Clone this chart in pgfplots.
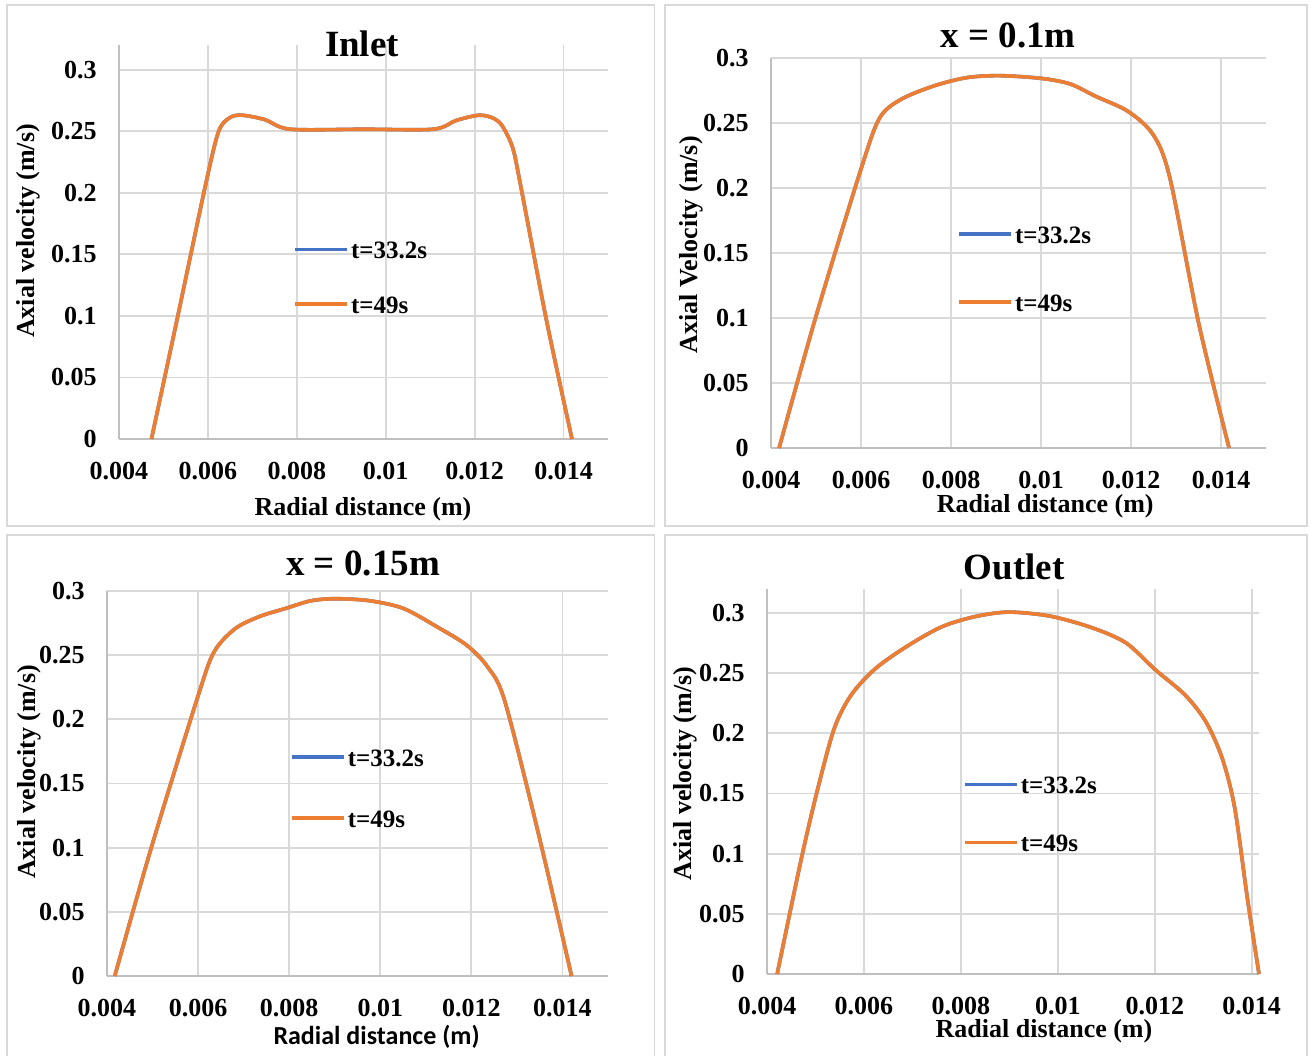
\documentclass[border=0pt]{standalone}
\usepackage{fontspec}
\setmainfont{Liberation Serif}
\newfontfamily\calibri{Carlito}
\usepackage{pgfplots}
\usepackage{pgfplotstable}
\pgfplotsset{compat=1.18}
\definecolor{xlblue}{HTML}{4472C4}
\definecolor{xlorange}{HTML}{ED7D31}
\definecolor{gridgray}{HTML}{D9D9D9}
\definecolor{axgray}{HTML}{BFBFBF}

\pgfplotstableread{
x y
0.00473 0
0.0053 0.096
0.00596 0.2085
0.00624 0.2497
0.00648 0.2607
0.00676 0.263
0.00728 0.2594
0.00785 0.2516
0.0095 0.2516
0.01107 0.2516
0.01159 0.2588
0.01211 0.263
0.01244 0.2602
0.01263 0.2538
0.01286 0.236
0.01305 0.203
0.01362 0.0957
0.01419 0
}\inlet
\pgfplotstableread{
x y
0.00418 0
0.00499 0.1002
0.006 0.2146
0.00641 0.2536
0.00688 0.268
0.00761 0.2784
0.00835 0.2849
0.00909 0.2864
0.01001 0.2843
0.01065 0.280
0.01121 0.2706
0.01194 0.2588
0.0125 0.2406
0.01287 0.2068
0.01351 0.095
0.01418 0
}\xone
\pgfplotstableread{
x y
0.00417 0
0.00497 0.0997
0.00599 0.2172
0.00635 0.2525
0.00682 0.2708
0.00737 0.2804
0.00792 0.2864
0.00848 0.2924
0.00903 0.294
0.00977 0.2924
0.01051 0.2864
0.01125 0.272
0.0119 0.2577
0.01236 0.2407
0.01273 0.2146
0.01346 0.1128
0.0142 0
}\xonefive
\pgfplotstableread{
x y
0.00421 0
0.00471 0.0962
0.00505 0.1545
0.00539 0.2044
0.00574 0.2321
0.00625 0.2543
0.00694 0.2737
0.00763 0.289
0.00832 0.2973
0.009 0.3008
0.00986 0.2973
0.01072 0.2876
0.01141 0.2751
0.01201 0.2529
0.01262 0.2321
0.01305 0.2099
0.01339 0.1794
0.01365 0.1378
0.01391 0.063
0.01415 0
}\outlet

\pgfplotsset{
  panel/.style={
    scale only axis,
    anchor=south west,
    axis x line*=bottom, axis y line*=left,
    axis line style={draw=axgray, line width=0.9pt, -},
    grid=major,
    major grid style={draw=gridgray, line width=0.9pt},
    major tick length=0pt,
    scaled x ticks=false, scaled y ticks=false,
    xmin=0.004,
    xtick={0.004,0.006,0.008,0.01,0.012,0.014},
    xticklabels={0.004,0.006,0.008,0.01,0.012,0.014},
    ymin=0,
    ytick={0,0.05,0.1,0.15,0.2,0.25,0.3},
    yticklabels={0,0.05,0.1,0.15,0.2,0.25,0.3},
    tick label style={font=\fontsize{13}{15}\selectfont\bfseries},
    xticklabel style={yshift=-8.3pt},
    yticklabel style={xshift=-7.7pt},
    label style={font=\fontsize{13}{15}\selectfont\bfseries},
    title style={font=\fontsize{18.5}{22}\selectfont\bfseries},
    legend style={draw=none, fill=none, inner sep=0pt,
      font=\fontsize{12.5}{14}\selectfont\bfseries,
      nodes={inner sep=1pt, text height=9pt, text depth=2.5pt}},
    legend cell align=left,
    legend image code/.code={\draw[#1] (0pt,0.14em) -- (26pt,0.14em);},
    clip=false,
  },
  s1/.style={color=xlblue, line width=1.8pt, smooth, tension=0.5, no markers},
  s2/.style={color=xlorange, line width=1.8pt, smooth, tension=0.5, no markers},
}

\begin{document}
\begin{tikzpicture}
\useasboundingbox (0,0) rectangle (655.5pt,527.5pt);
% panel frames
\begin{scope}[x=0.5pt,y=-0.5pt,yshift=527.5pt]
\draw[gridgray, line width=0.8pt] (7,5) rectangle (654.5,526);
\draw[gridgray, line width=0.8pt] (665,5) rectangle (1307,526);
\draw[gridgray, line width=0.8pt] (7,1060) -- (7,535) -- (654.5,535) -- (654.5,1060);
\draw[gridgray, line width=0.8pt] (665,1060) -- (665,535) -- (1307,535) -- (1307,1060);
\end{scope}

% Inlet
\begin{axis}[panel, at={(59.5pt,308pt)}, width=244.5pt, height=197pt,
  xmax=0.015, ymax=0.32,
  title={Inlet},
  title style={at={(axis description cs:0.497,1.0025)}, anchor=center, yshift=-6pt},
  xlabel={Radial distance (m)},
  xlabel style={at={(axis description cs:0.499,-0.1726)}, anchor=center, yshift=-1pt},
  ylabel={Axial velocity (m/s)},
  ylabel style={at={(axis description cs:-0.186,0.528)}, anchor=center},
  legend style={at={(axis description cs:0.356,0.405)}, anchor=west, row sep=13.75pt}]
\addplot[s1] table[x=x,y=y]{\inlet};
\addplot[s2] table[x=x,y=y]{\inlet};
\legend{t=33.2s, t=49s}
\end{axis}

% x = 0.1m
\begin{axis}[panel, at={(385.5pt,303.5pt)}, width=247.5pt, height=195pt,
  xmax=0.015, ymax=0.3,
  title={x = 0.1m},
  title style={at={(axis description cs:0.479,1.059)}, anchor=center, yshift=-6pt},
  xlabel={Radial distance (m)},
  xlabel style={at={(axis description cs:0.554,-0.141)}, anchor=center, yshift=-1.5pt},
  ylabel={Axial Velocity (m/s)},
  ylabel style={at={(axis description cs:-0.162,0.521)}, anchor=center},
  legend style={at={(axis description cs:0.376,0.455)}, anchor=west, row sep=20.5pt}]
\addplot[s1] table[x=x,y=y]{\xone};
\addplot[s2] table[x=x,y=y]{\xone};
\legend{t=33.2s, t=49s}
\end{axis}

% x = 0.15m
\begin{axis}[panel, at={(53.5pt,39.5pt)}, width=250.5pt, height=192.5pt,
  xmax=0.015, ymax=0.3,
  title={x = 0.15m},
  title style={at={(axis description cs:0.511,1.071)}, anchor=center, yshift=-6pt},
  xlabel={\calibri Radial distance (m)},
  xlabel style={at={(axis description cs:0.538,-0.1545)}, anchor=center, yshift=-0.5pt},
  ylabel={Axial velocity (m/s)},
  ylabel style={at={(axis description cs:-0.155,0.530)}, anchor=center},
  legend style={at={(axis description cs:0.365,0.483)}, anchor=west, row sep=17pt}]
\addplot[s1] table[x=x,y=y]{\xonefive};
\addplot[s2] table[x=x,y=y]{\xonefive};
\legend{t=33.2s, t=49s}
\end{axis}

% Outlet
\begin{axis}[panel, at={(383.5pt,40.5pt)}, width=246pt, height=192.5pt,
  xmax=0.01415, ymax=0.32,
  title={Outlet},
  title style={at={(axis description cs:0.502,1.058)}, anchor=center, yshift=-6pt},
  xlabel={Radial distance (m)},
  xlabel style={at={(axis description cs:0.563,-0.142)}, anchor=center, yshift=-1.5pt},
  ylabel={Axial velocity (m/s)},
  ylabel style={at={(axis description cs:-0.1667,0.5205)}, anchor=center},
  legend style={at={(axis description cs:0.398,0.41)}, anchor=west, row sep=15.5pt}]
\addplot[s1] table[x=x,y=y]{\outlet};
\addplot[s2] table[x=x,y=y]{\outlet};
\legend{t=33.2s, t=49s}
\end{axis}
\end{tikzpicture}
\end{document}
